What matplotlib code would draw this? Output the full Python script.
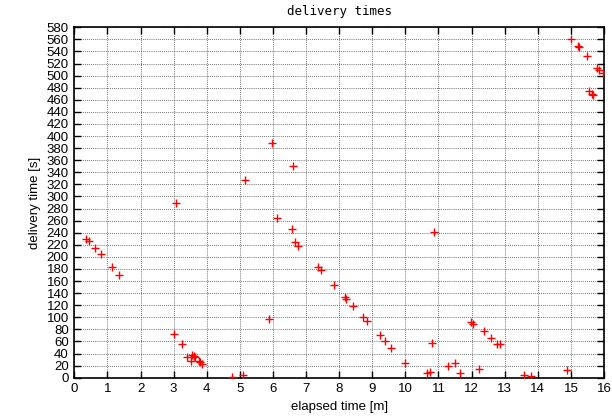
import matplotlib
matplotlib.use("Agg")
import matplotlib.pyplot as plt
import numpy as np

elapsed_min = [0.35, 0.43, 0.62, 0.82, 1.14, 1.36, 3.08, 3.01, 3.24, 3.39, 3.53, 3.57, 3.61, 3.65,
               3.76, 3.79, 3.85, 4.75, 5.10, 5.16, 5.88, 5.98, 6.13, 6.57, 6.61, 6.66, 6.77,
               7.35, 7.45, 7.85, 8.18, 8.22, 8.42, 8.72, 8.85, 9.22, 9.39, 9.58, 9.98,
               10.66, 10.75, 10.80, 10.87, 11.29, 11.49, 11.64, 11.98, 12.05, 12.21, 12.38,
               12.59, 12.77, 12.87, 13.58, 13.78, 14.88, 15.01, 15.21, 15.25, 15.49, 15.56,
               15.64, 15.68, 15.80, 15.86, 15.98]
delivery_s = [230, 227, 215, 204, 184, 170, 290, 72, 55, 35, 27, 38, 36, 34,
              27, 26, 23, 2, 5, 328, 97, 388, 264, 246, 350, 225, 218,
              183, 178, 153, 133, 130, 119, 100, 94, 70, 60, 49, 25,
              7, 9, 58, 242, 19, 24, 8, 93, 89, 14, 77,
              66, 55, 55, 5, 3, 13, 560, 549, 547, 532, 475,
              470, 468, 513, 510, 504]

x_ticks = list(range(0, 17))
y_ticks = list(range(0, 581, 20))

fig = plt.figure(figsize=(6.12, 4.17), dpi=100)
ax = fig.add_axes([0.1214, 0.0942, 0.8656, 0.8403])
ax.plot(elapsed_min, delivery_s, linestyle='none', marker='+', color='#ff0000',
        markersize=6, markeredgewidth=1.0, zorder=3)
ax.set_xlim(0, 16)
ax.set_ylim(0, 580)
ax.set_xticks(x_ticks)
ax.set_yticks(y_ticks)
ax.grid(True, color='#444444', linestyle=(0, (1, 1.5)), linewidth=0.6)
ax.tick_params(direction='in', top=True, right=True, length=5, width=1.0,
               labelsize=9.5, pad=4)
for lab in ax.get_xticklabels() + ax.get_yticklabels():
    lab.set_family('Liberation Sans')
for s in ax.spines.values():
    s.set_linewidth(1.2)
ax.set_xlabel('elapsed time [m]', fontsize=9.5, family='Liberation Sans', labelpad=4)
ax.set_ylabel('delivery time [s]', fontsize=9.5, family='Liberation Sans', labelpad=4)
fig.text(0.5 * (0.1214 + 0.987), 1 - 11 / 417, 'delivery times', ha='center', va='center',
         fontsize=9, family='DejaVu Sans Mono')
fig.savefig('out.png', dpi=100)
